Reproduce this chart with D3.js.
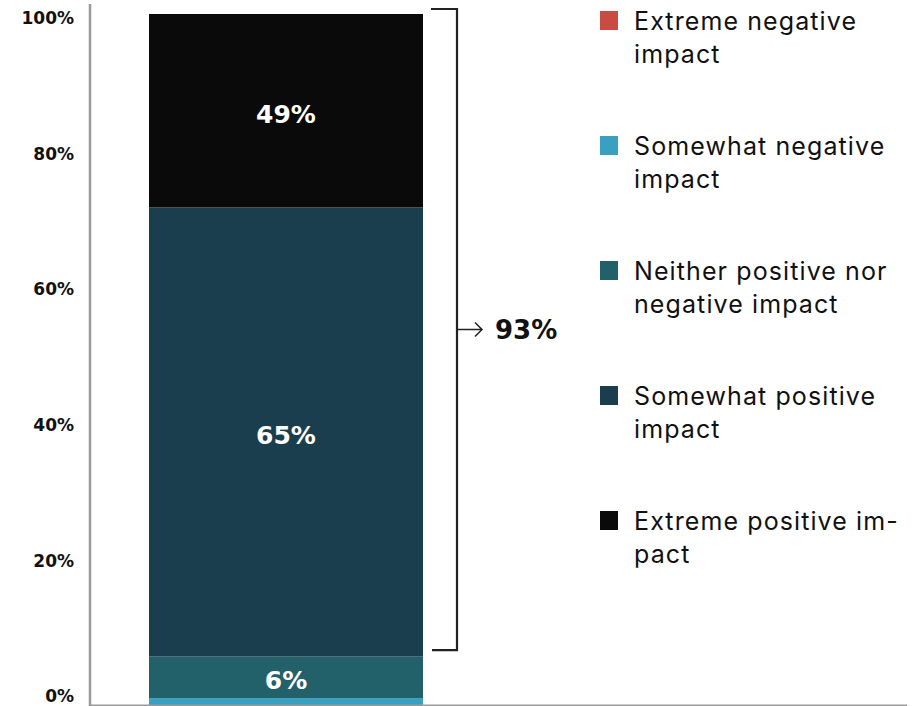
<!DOCTYPE html>
<html>
<head>
<meta charset="utf-8">
<script src="https://cdn.jsdelivr.net/npm/d3@7"></script>
<style>
  html, body { margin: 0; padding: 0; background: #fff; }
  svg { display: block; }
</style>
</head>
<body>
<svg id="chart" width="919" height="706"></svg>
<script>
// Response categories, stacked bottom to top
const categories = [
  "Extreme negative impact",
  "Somewhat negative impact",
  "Neither positive nor negative impact",
  "Somewhat positive impact",
  "Extreme positive impact"
];
// Share of respondents (%) per category
const values = [0, 1, 6, 65, 49];
// Colours per category
const colors = ["#c84c41", "#3aa0c2", "#23616a", "#1a3e4d", "#0a0a0a"];
// Legend text, broken into lines
const legendLines = [
  ["Extreme negative", "impact"],
  ["Somewhat negative", "impact"],
  ["Neither positive nor", "negative impact"],
  ["Somewhat positive", "impact"],
  ["Extreme positive im-", "pact"]
];
// Y axis tick values
const tickValues = [0, 20, 40, 60, 80, 100];
// Categories grouped under the bracket
const bracketGroup = ["Somewhat positive impact", "Extreme positive impact"];
// Segments that get an in-bar value label
const labelled = ["Neither positive nor negative impact", "Somewhat positive impact", "Extreme positive impact"];

const svg = d3.select("#chart");
const labelFont = "'DejaVu Sans', sans-serif";
const textFont = "Inter, 'Noto Sans', sans-serif";

// Scales
const y = d3.scaleLinear().domain([0, 100]).range([705, 14]).clamp(true);
const yTicks = d3.scaleLinear().domain([0, 100]).range([696, 18]);

// Stack the segments
const row = { key: "all" };
categories.forEach((c, i) => row[c] = values[i]);
const series = d3.stack().keys(categories)([row]);

const barX = 149, barW = 274;

// Segments (clamped to the 0–100% range)
svg.append("g").selectAll("rect")
  .data(series)
  .join("rect")
  .attr("x", barX)
  .attr("width", barW)
  .attr("y", d => y(d[0][1]))
  .attr("height", d => Math.max(0, y(d[0][0]) - y(d[0][1])))
  .attr("fill", (d, i) => colors[i]);

// Value labels inside segments
svg.append("g").selectAll("text")
  .data(series.filter(s => labelled.includes(s.key)))
  .join("text")
  .attr("x", barX + barW / 2)
  .attr("y", d => (y(d[0][0]) + y(d[0][1])) / 2 + 3)
  .attr("dy", "0.36em")
  .attr("text-anchor", "middle")
  .attr("fill", "#fff")
  .attr("font-family", labelFont)
  .attr("font-weight", 700)
  .attr("font-size", 25)
  .text(d => values[categories.indexOf(d.key)] + "%");

// Axes lines
svg.append("line")
  .attr("x1", 90).attr("x2", 90).attr("y1", 4).attr("y2", 706)
  .attr("stroke", "#9a9a9a").attr("stroke-width", 2.5);
svg.append("line")
  .attr("x1", 89).attr("x2", 907).attr("y1", y(0) + 0.5).attr("y2", y(0) + 0.5)
  .attr("stroke", "#9a9a9a").attr("stroke-width", 2);

// Y tick labels
svg.append("g").selectAll("text")
  .data(tickValues)
  .join("text")
  .attr("x", 74)
  .attr("y", d => yTicks(d))
  .attr("dy", "0.36em")
  .attr("text-anchor", "end")
  .attr("font-family", labelFont)
  .attr("font-weight", 700)
  .attr("font-size", 17)
  .attr("fill", "#111")
  .text(d => d + "%");

// Bracket around the positive segments
const grp = series.filter(s => bracketGroup.includes(s.key));
const lo = d3.min(grp, s => s[0][0]);
const hi = Math.min(100, d3.max(grp, s => s[0][1]));
const bTop = y(hi) - 5, bBot = y(lo) - 6.5, bx = 457, bMid = (bTop + bBot) / 2;
svg.append("path")
  .attr("d", `M431,${bTop}H${bx}V${bBot}H432`)
  .attr("fill", "none").attr("stroke", "#222").attr("stroke-width", 2.2);
// Arrow
svg.append("path")
  .attr("d", `M${bx},${bMid}H482M475,${bMid - 7}L482,${bMid}L475,${bMid + 7}`)
  .attr("fill", "none").attr("stroke", "#222").attr("stroke-width", 1.5);
svg.append("text")
  .attr("x", 495).attr("y", bMid)
  .attr("dy", "0.36em")
  .attr("font-family", labelFont)
  .attr("font-weight", 700)
  .attr("font-size", 26)
  .attr("fill", "#111")
  .text(Math.round(hi - lo) + "%");

// Legend
const legend = svg.append("g").selectAll("g")
  .data(categories)
  .join("g")
  .attr("transform", (d, i) => `translate(600, ${11 + i * 125})`);
legend.append("rect")
  .attr("width", 18).attr("height", 19)
  .attr("fill", (d, i) => colors[i]);
legend.append("text")
  .attr("font-family", textFont)
  .attr("font-size", 25)
  .attr("letter-spacing", 1.1)
  .attr("fill", "#111")
  .selectAll("tspan")
  .data((d, i) => legendLines[i])
  .join("tspan")
  .attr("x", 34)
  .attr("y", (d, j) => 19 + j * 33)
  .text(d => d);
</script>
</body>
</html>
